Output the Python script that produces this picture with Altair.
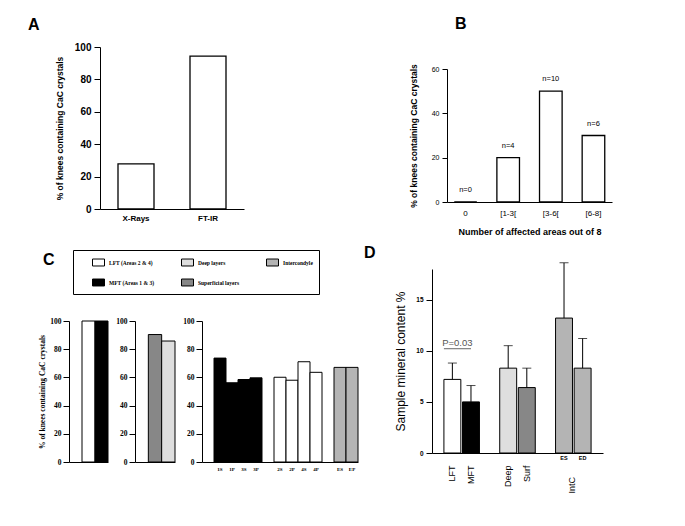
import altair as alt
import pandas as pd

SANS = "Liberation Sans"
SERIF = "Liberation Serif"

# ---------------- data ----------------
# Panel A
a_methods = ["X-Rays", "FT-IR"]
a_values = [27.8, 94.4]

# Panel B
b_groups = ["0", "[1-3[", "[3-6[", "[6-8]"]
b_values = [0, 20, 50, 30]
b_counts = ["n=0", "n=4", "n=10", "n=6"]

# Panel C / D shared categories (legend is filled column by column)
legend_types = ["LFT (Areas 2 & 4)", "MFT (Areas 1 & 3)", "Deep layers",
                "Superficial layers", "Intercondyle"]
type_fills = ["#ffffff", "#000000", "#dedede", "#878787", "#b4b4b4"]

c1_slots = [" ", "LFT", "MFT"]
c1_cats = ["LFT", "MFT"]
c1_types = ["LFT (Areas 2 & 4)", "MFT (Areas 1 & 3)"]
c1_values = [100, 100]

c2_slots = [" ", "Superficial", "Deep"]
c2_cats = ["Superficial", "Deep"]
c2_types = ["Superficial layers", "Deep layers"]
c2_values = [90.4, 85.8]

c3_slots = [" ", "1S", "1P", "3S", "3P", "  ", "2S", "2P", "4S", "4P", "   ", "ES", "EP"]
c3_cats = ["1S", "1P", "3S", "3P", "2S", "2P", "4S", "4P", "ES", "EP"]
c3_types = ["MFT (Areas 1 & 3)"] * 4 + ["LFT (Areas 2 & 4)"] * 4 + ["Intercondyle"] * 2
c3_values = [73.7, 56.2, 58.5, 59.7, 60.1, 58.0, 71.1, 63.6, 67.1, 67.1]

# Panel D
d_slots = ["LFT", "MFT", " ", "Deep", "Surf", "  ", "ES", "ED"]
d_cats = ["LFT", "MFT", "Deep", "Surf", "ES", "ED"]
d_types = ["LFT (Areas 2 & 4)", "MFT (Areas 1 & 3)", "Deep layers",
           "Superficial layers", "Intercondyle", "Intercondyle"]
d_means = [7.2, 5.0, 8.3, 6.4, 13.2, 8.3]
d_upper = [8.8, 6.6, 10.5, 8.3, 18.6, 11.2]
d_sub_cats = ["ES", "ED"]
d_group_label = ["IntC"]
p_text = ["P=0.03"]
p_level = [10.2]

fill_scale = alt.Scale(domain=legend_types, range=type_fills)

A_LEAD = 61
C_LEAD = 30


def letter(t, dx, offset):
    return alt.Title(t, anchor="start", frame="group", dx=dx, offset=offset,
                     font=SANS, fontSize=16, fontWeight="bold", color="black")


# ---------------- Panel A ----------------
dfA = pd.DataFrame({"method": a_methods, "value": a_values})
A = alt.Chart(dfA, title=letter("A", 28 - (100 - A_LEAD), 9)).mark_bar(
    fill="white", stroke="black", strokeWidth=1.3
).encode(
    x=alt.X("method:N", sort=a_methods,
            scale=alt.Scale(range=[A_LEAD, A_LEAD + 144], paddingInner=0.5, paddingOuter=0.25),
            axis=alt.Axis(title=None, labelAngle=0, ticks=False, labelFont=SANS,
                          labelFontWeight="bold", labelFontSize=8, labelPadding=5)),
    y=alt.Y("value:Q", scale=alt.Scale(domain=[0, 100]),
            axis=alt.Axis(values=[0, 20, 40, 60, 80, 100], offset=-A_LEAD,
                          title="% of knees containing CaC crystals",
                          titleFont=SANS, titleFontSize=8.5, titleFontWeight="bold",
                          titlePadding=10, labelFont=SANS, labelFontSize=10,
                          labelFontWeight="bold", tickSize=6, labelPadding=3)),
).properties(width=A_LEAD + 144, height=162)

# ---------------- Panel B ----------------
dfB = pd.DataFrame({"group": b_groups, "value": b_values, "n": b_counts})
xB = alt.X("group:N", sort=b_groups,
           scale=alt.Scale(paddingInner=0.47, paddingOuter=0.17),
           axis=alt.Axis(title="Number of affected areas out of 8", labelAngle=0,
                         ticks=False, labelFont=SANS, labelFontSize=8,
                         labelPadding=7, titleFont=SANS, titleFontSize=9,
                         titleFontWeight="bold", titlePadding=10))
yB = alt.Y("value:Q", scale=alt.Scale(domain=[0, 60], range=[155, 22]),
           axis=alt.Axis(values=[0, 20, 40, 60],
                         title="% of knees containing CaC crystals",
                         titleFont=SANS, titleFontSize=8.5, titleFontWeight="bold",
                         titlePadding=13, labelFont=SANS, labelFontSize=7,
                         tickSize=5, labelPadding=3))
baseB = alt.Chart(dfB, title=letter("B", 8, 15))
B = alt.layer(
    baseB.mark_bar(fill="white", stroke="black", strokeWidth=1.3).encode(x=xB, y=yB),
    baseB.mark_text(font=SANS, fontSize=7.5, dy=-12, baseline="middle").encode(
        x=xB, y=yB, text="n:N"),
).properties(width=165, height=155)

# ---------------- Panel C ----------------
def c_yaxis(title=None, offset=0):
    kw = dict(values=[0, 20, 40, 60, 80, 100], labelFont=SERIF, labelFontSize=7.5,
              labelFontWeight="bold", tickSize=6, labelPadding=2, offset=offset)
    if title:
        kw.update(title=title, titleFont=SERIF, titleFontSize=7.5,
                  titleFontWeight="bold", titlePadding=3)
    else:
        kw.update(title=None)
    return alt.Axis(**kw)


def c_chart(cats, types, values, slots, width, title=None, letter_title=None,
            show_labels=False, lead=0):
    df = pd.DataFrame({"slot": cats, "type": types, "value": values})
    if show_labels:
        xaxis = alt.Axis(title=None, labelAngle=0, ticks=False, labelFont=SERIF,
                         labelFontSize=5, labelFontWeight="bold", labelPadding=4)
    else:
        xaxis = alt.Axis(title=None, labels=False, ticks=False)
    ch = alt.Chart(df, title=letter_title) if letter_title else alt.Chart(df)
    return ch.mark_bar(stroke="black", strokeWidth=1).encode(
        x=alt.X("slot:N", scale=alt.Scale(domain=slots, paddingInner=0, paddingOuter=0,
                                          range=[lead, lead + width]),
                axis=xaxis),
        y=alt.Y("value:Q", scale=alt.Scale(domain=[0, 100], range=[193, 52]),
                axis=c_yaxis(title, -lead)),
        fill=alt.Fill("type:N", scale=fill_scale, title=None),
    ).properties(width=width + lead, height=193)


C1 = c_chart(c1_cats, c1_types, c1_values, c1_slots, 39,
             title="% of knees containing CaC crystals",
             letter_title=letter("C", 43 - (69 - C_LEAD), 1), lead=C_LEAD)
C2 = c_chart(c2_cats, c2_types, c2_values, c2_slots, 40)
C3 = c_chart(c3_cats, c3_types, c3_values, c3_slots, 156, show_labels=True)

# ---------------- Panel D ----------------
dfD = pd.DataFrame({"slot": d_cats, "type": d_types, "mean": d_means, "upper": d_upper})
xD = alt.X("slot:N", scale=alt.Scale(domain=d_slots, paddingInner=0.09, paddingOuter=0.64),
           axis=alt.Axis(title=None, labelAngle=270, ticks=False, labelFont=SANS,
                         labelFontSize=9, labelPadding=12,
                         labelExpr="datum.value == 'ES' || datum.value == 'ED' ? '' : datum.value"))
yD = alt.Y("mean:Q", scale=alt.Scale(domain=[0, 18]),
           axis=alt.Axis(values=[0, 5, 10, 15], title="Sample mineral content %",
                         titleFont=SANS, titleFontSize=12, titleFontWeight="normal",
                         titlePadding=8, labelFont=SANS, labelFontSize=6.5,
                         labelFontWeight="bold", tickSize=6, labelPadding=3))
baseD = alt.Chart(dfD)
dfSub = pd.DataFrame({"slot": d_sub_cats})
dfGroup = pd.DataFrame({"slot": ["ES"], "label": d_group_label})
dfP = pd.DataFrame({"a": ["LFT"], "b": ["MFT"], "label": p_text, "level": p_level})

D = alt.layer(
    baseD.mark_bar(stroke="black", strokeWidth=1).encode(
        x=xD, y=yD, fill=alt.Fill("type:N", scale=fill_scale, title=None)),
    baseD.mark_rule(color="black", strokeWidth=1).encode(x=xD, y="mean:Q", y2="upper:Q"),
    baseD.mark_tick(color="black", size=9, thickness=1).encode(x=xD, y="upper:Q"),
    alt.Chart(dfSub).mark_text(font=SANS, fontSize=5.5, fontWeight="bold",
                               baseline="top", dy=3).encode(
        x=alt.X("slot:N"), y=alt.datum(0), text="slot:N"),
    alt.Chart(dfGroup).mark_text(font=SANS, fontSize=9, angle=270, align="right",
                                 baseline="middle", dx=-24).encode(
        x=alt.X("slot:N", bandPosition=1), y=alt.datum(0), text="label:N"),
    alt.Chart(dfP).mark_rule(color="#666666", strokeWidth=1).encode(
        x=alt.X("a:N", bandPosition=0), x2="b:N", y="level:Q"),
    alt.Chart(dfP).mark_text(font=SANS, fontSize=9.5, color="#555555", dx=5,
                             baseline="bottom", dy=-1).encode(
        x=alt.X("a:N"), y="level:Q", text="label:N"),
).properties(width=171, height=184, title=letter("D", -68, 1))

# ---------------- layout ----------------
row1 = alt.hconcat(A, B, spacing=203, bounds="flush")
cgroup = alt.hconcat(C1, C2, C3, spacing=27, bounds="flush")
row2 = alt.hconcat(cgroup, D, spacing=5)

chart = alt.vconcat(row1, row2, spacing=9).properties(
    padding={"left": 20, "top": 8, "right": 5, "bottom": 5}
).configure_view(stroke=None).configure_axis(
    domainColor="black", tickColor="black", labelColor="black", titleColor="black",
    grid=False, domainWidth=1
).configure_legend(
    orient="none", legendX=73 - (100 - A_LEAD), legendY=203, columns=3,
    symbolType="M-1,-0.58L1,-0.58L1,0.58L-1,0.58Z", symbolSize=144,
    symbolStrokeColor="black", symbolStrokeWidth=1, labelFont=SERIF,
    labelFontSize=5.5, labelFontWeight="bold", labelColor="black",
    strokeColor="black", padding=6, columnPadding=13, rowPadding=8,
    symbolOffset=13, labelOffset=4
)

chart.save("out.html", embed_options={"renderer": "svg", "actions": False})
